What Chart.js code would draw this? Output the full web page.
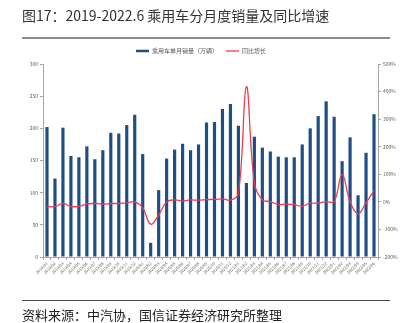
<!DOCTYPE html>
<html>
<head>
<meta charset="utf-8">
<script src="https://cdn.jsdelivr.net/npm/chart.js@4.4.1/dist/chart.umd.min.js"></script>
<style>
  html, body { margin: 0; padding: 0; background: #fff; }
  body { width: 402px; height: 323px; position: relative; overflow: hidden; font-family: "Noto Sans CJK SC", sans-serif; }
  #title { position: absolute; left: 22px; top: 5px; font-size: 14px; color: #333; white-space: nowrap; }
  #topRule { position: absolute; left: 22px; top: 37px; width: 368px; height: 1.5px; background: #8c8c8c; }
  #bottomRule { position: absolute; left: 22px; top: 300px; width: 368px; height: 1px; background: #444; }
  #source { position: absolute; left: 22px; top: 305px; font-size: 13px; color: #222; white-space: nowrap; }
  #wrap { position: absolute; left: 0; top: 0; width: 402px; height: 323px; }
</style>
</head>
<body>
<div id="wrap"><canvas id="chart" width="402" height="323"></canvas></div>
<div id="title">图17：2019-2022.6 乘用车分月度销量及同比增速</div>
<div id="topRule"></div>
<div id="bottomRule"></div>
<div id="source">资料来源：中汽协，国信证券经济研究所整理</div>
<script>
// month labels on x axis
const months = [
  '2019/01','2019/02','2019/03','2019/04','2019/05','2019/06','2019/07','2019/08','2019/09','2019/10','2019/11','2019/12',
  '2020/01','2020/02','2020/03','2020/04','2020/05','2020/06','2020/07','2020/08','2020/09','2020/10','2020/11','2020/12',
  '2021/01','2021/02','2021/03','2021/04','2021/05','2021/06','2021/07','2021/08','2021/09','2021/10','2021/11','2021/12',
  '2022/01','2022/02','2022/03','2022/04','2022/05','2022/06'
];

// monthly passenger car sales (万辆)
const sales = [
  202, 122, 201, 157, 155, 172, 152, 166, 193, 192, 205, 221,
  160, 22, 104, 153, 167, 176, 166, 175, 209, 210, 230, 238,
  204, 115, 187, 170, 164, 156, 155, 155, 175, 200, 219, 242,
  218, 149, 186, 96, 162, 222
];

// year-over-year growth (%)
const yoy = [
  -17, -17, -6, -17, -16, -8, -5, -8, -6, -6, -4, 0,
  -22, -81, -48, 0, 7, 3, 7, 6, 8, 9, 11, 6,
  29, 418, 68, 7, 1, -10, -8, -10, -16, -5, -5, 1,
  1, 100, 0, -44, -3, 41
];

const seriesNames = ['乘用车单月销量（万辆）', '同比增长'];
const blue = '#1f4e85';
const red = '#ee3b4f';
const axisGray = '#a6a6a6';
const tickGray = '#595959';
const font = '"Noto Sans CJK SC", sans-serif';

const ctx = document.getElementById('chart').getContext('2d');
new Chart(ctx, {
  type: 'bar',
  data: {
    labels: months,
    datasets: [
      {
        type: 'line',
        label: seriesNames[1],
        data: yoy,
        yAxisID: 'y1',
        borderColor: red,
        borderWidth: 1.3,
        pointRadius: 0,
        tension: 0.4,
        order: 0
      },
      {
        label: seriesNames[0],
        data: sales,
        yAxisID: 'y',
        backgroundColor: blue,
        barPercentage: 0.4,
        categoryPercentage: 1,
        order: 1
      }
    ]
  },
  options: {
    responsive: false,
    animation: false,
    layout: { padding: { top: 40, left: 0, right: 0, bottom: 42 } },
    plugins: {
      tooltip: { enabled: false },
      legend: {
        position: 'top',
        labels: {
          usePointStyle: true,
          pointStyleWidth: 13,
          padding: 8,
          color: tickGray,
          font: { family: font, size: 6 },
          generateLabels: () => [
            { text: seriesNames[0], strokeStyle: blue, fillStyle: blue, lineWidth: 2.5, pointStyle: 'line', fontColor: tickGray },
            { text: seriesNames[1], strokeStyle: red, fillStyle: red, lineWidth: 1.3, pointStyle: 'line', fontColor: tickGray }
          ]
        }
      }
    },
    scales: {
      x: {
        grid: { display: true, drawOnChartArea: false, color: axisGray, tickLength: 3 },
        border: { color: axisGray },
        ticks: { minRotation: 45, maxRotation: 45, autoSkip: false, padding: 1, color: tickGray, font: { family: font, size: 4 } },
        afterFit: s => { s.height = 24; }
      },
      y: {
        position: 'left',
        min: 0, max: 300,
        grid: { display: true, drawOnChartArea: false, color: axisGray, tickLength: 3 },
        border: { color: axisGray },
        ticks: { stepSize: 50, padding: 2, color: tickGray, font: { family: font, size: 5 } },
        afterFit: s => { s.width = 43; }
      },
      y1: {
        position: 'right',
        min: -200, max: 500,
        grid: { display: true, drawOnChartArea: false, color: axisGray, tickLength: 3 },
        border: { color: axisGray },
        ticks: { stepSize: 100, padding: 2, color: tickGray, font: { family: font, size: 5 }, callback: v => v + '%' },
        afterFit: s => { s.width = 24; }
      }
    }
  }
});
</script>
</body>
</html>
